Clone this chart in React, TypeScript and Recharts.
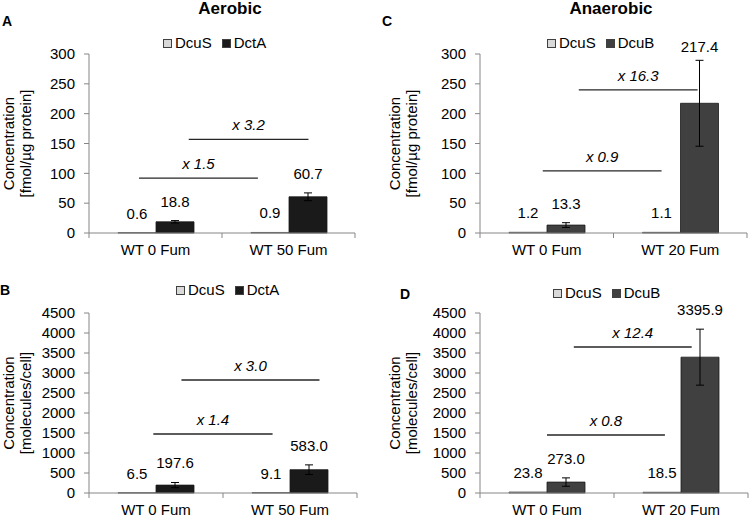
import React from 'react';
import { BarChart, Bar, XAxis, YAxis, ErrorBar, LabelList, Legend, ReferenceLine } from 'recharts';

const FONT = '"Liberation Sans", Arial, sans-serif';
const AXIS = '#868686';

// categories
const aerobicCats = ['WT 0 Fum', 'WT 50 Fum'];
const anaerobicCats = ['WT 0 Fum', 'WT 20 Fum'];

// A: fmol/µg protein, aerobic
const dcusFmolAer = [0.6, 0.9];
const dctaFmol = [18.8, 60.7];
const dctaFmolErr = [2, 6.5];

// B: molecules/cell, aerobic
const dcusMolAer = [6.5, 9.1];
const dctaMol = [197.6, 583.0];
const dctaMolErr = [65, 120];

// C: fmol/µg protein, anaerobic
const dcusFmolAna = [1.2, 1.1];
const dcubFmol = [13.3, 217.4];
const dcubFmolErr = [4, 72];

// D: molecules/cell, anaerobic
const dcusMolAna = [23.8, 18.5];
const dcubMol = [273.0, 3395.9];
const dcubMolErr = [105, 700];

const fmolTicks = [0, 50, 100, 150, 200, 250, 300];
const molTicks = [0, 500, 1000, 1500, 2000, 2500, 3000, 3500, 4000, 4500];

// fold change annotations
const foldA = ['x 1.5', 'x 3.2'];
const foldB = ['x 1.4', 'x 3.0'];
const foldC = ['x 0.9', 'x 16.3'];
const foldD = ['x 0.8', 'x 12.4'];

const fmolLabel = ['Concentration', '[fmol/µg protein]'];
const molLabel = ['Concentration', '[molecules/cell]'];

const Y_W = 50;
const X_H = 22;

// pos: numeric slot of each category on the hidden [0, 2] axis used for the fold brackets
const makeTable = (cats: string[], dcus: number[], other: number[], err: number[]) =>
  cats.map((c, i) => ({ cat: c, pos: i + 0.5, dcus: dcus[i], other: other[i], err: err[i] }));

const makeXTick = (band: number, last: number) => (props: any) => {
  const { x, y, payload, index } = props;
  const h = band / 2;
  return (
    <g>
      <line x1={x - h} x2={x - h} y1={y} y2={y + 5} stroke={AXIS} />
      {index === last && <line x1={x + h} x2={x + h} y1={y} y2={y + 5} stroke={AXIS} />}
      <text x={x} y={y + 22} textAnchor="middle" fontSize={15} fill="#000" fontFamily={FONT}>
        {payload.value}
      </text>
    </g>
  );
};

const makeValueLabel = (errs: number[] | null, plotTop: number) => (props: any) => {
  const vb = props.viewBox || {};
  const x = props.x ?? vb.x;
  const y = props.y ?? vb.y;
  const width = props.width ?? vb.width;
  const height = props.height ?? vb.height;
  const value = Number(props.value);
  const idx = props.index ?? 0;
  const errPx = errs && value ? (errs[idx] * height) / value : 0;
  const base = Math.max(y - errPx - 14, plotTop - 2);
  return (
    <text x={x + width / 2} y={base} textAnchor="middle" fontSize={15} fill="#000" fontFamily={FONT}>
      {value.toFixed(1)}
    </text>
  );
};

const makeYLabel = (lines: string[], xs: number[]) => (props: any) => {
  const vb = props.viewBox;
  const cy = vb.y + vb.height / 2;
  return (
    <g>
      {lines.map((t, i) => (
        <text
          key={t}
          x={xs[i]}
          y={cy}
          transform={`rotate(-90 ${xs[i]} ${cy})`}
          textAnchor="middle"
          dominantBaseline="central"
          fontSize={15}
          fill="#000"
          fontFamily={FONT}
        >
          {t}
        </text>
      ))}
    </g>
  );
};

const makeLegend = (order: string[]) => (props: any) => {
  const items = [...(props.payload || [])].sort(
    (a: any, b: any) => order.indexOf(a.value) - order.indexOf(b.value),
  );
  return (
    <div style={{ display: 'flex', alignItems: 'center', fontFamily: FONT, fontSize: 15, lineHeight: '16px' }}>
      {items.map((p: any) => (
        <span key={p.value} style={{ display: 'flex', alignItems: 'center', marginRight: 10 }}>
          <span
            style={{
              width: 7,
              height: 7,
              background: p.color,
              border: '1px solid #404040',
              marginRight: 3,
              display: 'inline-block',
            }}
          />
          {p.value}
        </span>
      ))}
    </div>
  );
};

type Fold = { text: string; y: number; from: number; to: number };

type PanelProps = {
  left: number;
  top: number;
  width: number;
  height: number;
  margin: { top: number; right: number; bottom: number; left: number };
  cats: string[];
  dcus: number[];
  other: number[];
  err: number[];
  otherName: string;
  otherColor: string;
  ticks: number[];
  yLines: string[];
  yLabelX: number[];
  legendPos: { left: number; top: number };
  folds: Fold[];
};

function Panel(p: PanelProps) {
  const data = makeTable(p.cats, p.dcus, p.other, p.err);
  const plotW = p.width - p.margin.left - p.margin.right - Y_W;
  const band = plotW / p.cats.length;
  const max = p.ticks[p.ticks.length - 1];
  return (
    <div style={{ position: 'absolute', left: p.left, top: p.top }}>
      <BarChart width={p.width} height={p.height} data={data} margin={p.margin} barGap={0} barSize={38}>
        <XAxis
          dataKey="cat"
          stroke={AXIS}
          tickLine={false}
          tickSize={0}
          tickMargin={0}
          height={X_H}
          tick={makeXTick(band, p.cats.length - 1)}
          interval={0}
        />
        <XAxis xAxisId="pos" dataKey="pos" type="number" domain={[0, 2]} hide allowDataOverflow />
        <YAxis
          width={Y_W}
          domain={[0, max]}
          ticks={p.ticks}
          interval={0}
          stroke={AXIS}
          tickSize={5}
          tickMargin={9}
          tick={{ fill: '#000', fontSize: 15, fontFamily: FONT }}
          label={{ content: makeYLabel(p.yLines, p.yLabelX) }}
        />
        <Legend
          layout="horizontal"
          verticalAlign="middle"
          align="center"
          content={makeLegend(['DcuS', p.otherName])}
          wrapperStyle={{ left: p.legendPos.left, top: p.legendPos.top, width: 'auto' }}
        />
        <Bar dataKey="dcus" name="DcuS" fill="#d9d9d9" stroke="#404040" strokeWidth={0.8} isAnimationActive={false}>
          <LabelList dataKey="dcus" content={makeValueLabel(null, p.margin.top)} />
        </Bar>
        <Bar dataKey="other" name={p.otherName} fill={p.otherColor} stroke="#1a1a1a" strokeWidth={0.8} isAnimationActive={false}>
          <ErrorBar dataKey="err" width={4} stroke="#000" strokeWidth={1} direction="y" />
          <LabelList dataKey="other" content={makeValueLabel(p.err, p.margin.top)} />
        </Bar>
        {p.folds.map((f) => (
          <ReferenceLine
            key={f.text}
            xAxisId="pos"
            yAxisId={0}
            ifOverflow="visible"
            segment={[
              { x: f.from, y: f.y },
              { x: f.to, y: f.y },
            ]}
            stroke="#262626"
            strokeWidth={1.3}
            label={{ value: f.text, position: 'top', offset: 9, fontSize: 15, fontStyle: 'italic', fill: '#000', fontFamily: FONT }}
          />
        ))}
      </BarChart>
    </div>
  );
}

const textStyle = (left: number, top: number, size: number): React.CSSProperties => ({
  position: 'absolute',
  left,
  top,
  fontFamily: FONT,
  fontSize: size,
  fontWeight: 'bold',
  lineHeight: '18px',
  color: '#000',
});

export default function App() {
  return (
    <div style={{ position: 'absolute', left: 0, top: 0, width: 750, height: 517, background: '#fff', overflow: 'hidden' }}>
      <div style={{ ...textStyle(180, 0, 17), width: 100, textAlign: 'center' }}>Aerobic</div>
      <div style={{ ...textStyle(561, 0, 17), width: 100, textAlign: 'center' }}>Anaerobic</div>
      <div style={textStyle(2, 12, 14)}>A</div>
      <div style={textStyle(382, 12, 14)}>C</div>
      <div style={textStyle(0, 281, 14)}>B</div>
      <div style={textStyle(400, 285, 14)}>D</div>

      <Panel
        left={0}
        top={0}
        width={375}
        height={258}
        margin={{ top: 54, right: 20, bottom: 3, left: 39 }}
        cats={aerobicCats}
        dcus={dcusFmolAer}
        other={dctaFmol}
        err={dctaFmolErr}
        otherName="DctA"
        otherColor="#1a1a1a"
        ticks={fmolTicks}
        yLines={fmolLabel}
        yLabelX={[8, 25]}
        legendPos={{ left: 163, top: 35 }}
        folds={[
          { text: foldA[0], y: 92, from: 0.376, to: 1.27 },
          { text: foldA[1], y: 157, from: 0.75, to: 1.65 },
        ]}
      />
      <Panel
        left={0}
        top={258}
        width={375}
        height={259}
        margin={{ top: 55, right: 18, bottom: 2, left: 39 }}
        cats={aerobicCats}
        dcus={dcusMolAer}
        other={dctaMol}
        err={dctaMolErr}
        otherName="DctA"
        otherColor="#1a1a1a"
        ticks={molTicks}
        yLines={molLabel}
        yLabelX={[8, 25]}
        legendPos={{ left: 176, top: 24 }}
        folds={[
          { text: foldB[0], y: 1475, from: 0.48, to: 1.37 },
          { text: foldB[1], y: 2825, from: 0.69, to: 1.72 },
        ]}
      />
      <Panel
        left={375}
        top={0}
        width={375}
        height={258}
        margin={{ top: 54, right: 3, bottom: 3, left: 55 }}
        cats={anaerobicCats}
        dcus={dcusFmolAna}
        other={dcubFmol}
        err={dcubFmolErr}
        otherName="DcuB"
        otherColor="#404040"
        ticks={fmolTicks}
        yLines={fmolLabel}
        yLabelX={[19, 36]}
        legendPos={{ left: 172, top: 35 }}
        folds={[
          { text: foldC[0], y: 104, from: 0.47, to: 1.36 },
          { text: foldC[1], y: 240, from: 0.74, to: 1.63 },
        ]}
      />
      <Panel
        left={375}
        top={258}
        width={375}
        height={259}
        margin={{ top: 55, right: 2, bottom: 2, left: 55 }}
        cats={anaerobicCats}
        dcus={dcusMolAna}
        other={dcubMol}
        err={dcubMolErr}
        otherName="DcuB"
        otherColor="#404040"
        ticks={molTicks}
        yLines={molLabel}
        yLabelX={[19, 36]}
        legendPos={{ left: 178, top: 27 }}
        folds={[
          { text: foldD[0], y: 1450, from: 0.5, to: 1.38 },
          { text: foldD[1], y: 3650, from: 0.7, to: 1.58 },
        ]}
      />
    </div>
  );
}
